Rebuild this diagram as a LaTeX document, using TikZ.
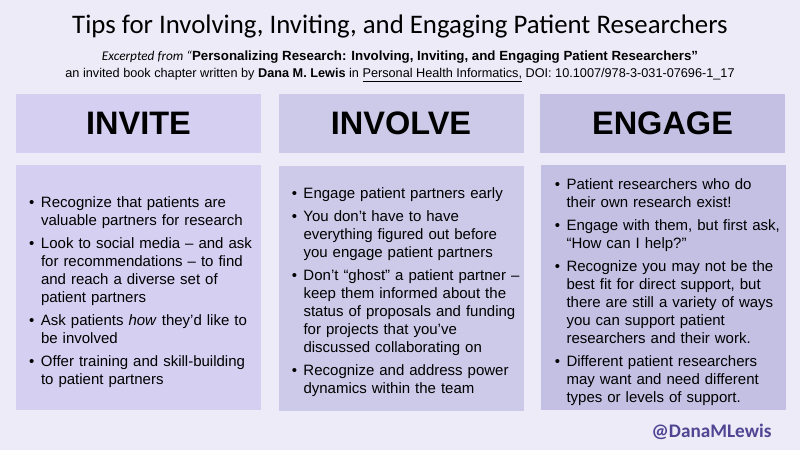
\documentclass[tikz,border=0pt]{standalone}
\usepackage{fontspec}
\setmainfont{Liberation Sans}
\newfontfamily\calfont{Carlito}
\definecolor{bgc}{HTML}{EDEBF8}
\definecolor{cinv}{HTML}{D5CFF1}
\definecolor{cinl}{HTML}{CCCAE8}
\definecolor{ceng}{HTML}{C4C0E4}
\definecolor{handle}{HTML}{4F4593}
\newcommand\bul[1]{\par\noindent\llap{\textbullet\hspace{6.5pt}}#1\par}
\tikzset{
  hdr/.style={minimum width=245pt, minimum height=59pt, inner sep=0pt,
    font=\fontsize{32.5}{36}\selectfont\bfseries},
  bodybox/.style={minimum width=245pt, minimum height=245pt, inner sep=0pt},
  bodytext/.style={text width=240pt, inner sep=0pt, align=left,
    font=\fontsize{15}{18}\selectfont},
  subtext/.style={font=\fontsize{12.7}{15}\selectfont},
}
\begin{document}
\begin{tikzpicture}[x=1pt,y=-1pt]
\useasboundingbox (0,0) rectangle (800,450);
\fill[bgc] (0,0) rectangle (800,450);
% title
\node[font=\calfont\fontsize{26.8}{30}\selectfont] (title) at (400,26) {Tips for Involving, Inviting, and Engaging Patient Researchers};
\node[subtext, font=\fontsize{13.3}{15}\selectfont] (sub1) at (400,57) {{\calfont\itshape Excerpted from “}\textbf{Personalizing Research: Involving, Inviting, and Engaging Patient Researchers”}};
\node[subtext] (sub2) at (400,75) {an invited book chapter written by \textbf{Dana M. Lewis} in \underline{Personal Health Informatics,} DOI: 10.1007/978-3-031-07696-1\_17};
% headers
\node[hdr, fill=cinv] (invh) at (138.5,123.5) {INVITE};
\node[hdr, fill=cinl] (inlh) at (401,123.5) {INVOLVE};
\node[hdr, fill=ceng] (engh) at (662.5,123.5) {ENGAGE};
% bodies
\node[bodybox, fill=cinv] (invb) at (138.5,287.5) {};
\node[bodybox, fill=cinl] (inlb) at (401,288) {};
\node[bodybox, fill=ceng] (engb) at (663,287.5) {};
\node[bodytext, anchor=west] (invt) at ([xshift=25pt,yshift=1pt]invb.west) {\setlength\parskip{5pt}%
\bul{Recognize that patients are\\valuable partners for research}
\bul{Look to social media – and ask\\for recommendations – to find\\and reach a diverse set of\\patient partners}
\bul{Ask patients \textit{how} they’d like to\\be involved}
\bul{Offer training and skill-building\\to patient partners}};
\node[bodytext, anchor=west] (inlt) at ([xshift=25pt,yshift=1.5pt]inlb.west) {\setlength\parskip{5pt}%
\bul{Engage patient partners early}
\bul{You don’t have to have\\everything figured out before\\you engage patient partners}
\bul{Don’t “ghost” a patient partner –\\keep them informed about the\\status of proposals and funding\\for projects that you've\\discussed collaborating on}
\bul{Recognize and address power\\dynamics within the team}};
\node[bodytext, anchor=west] (engt) at ([xshift=26pt,yshift=1.5pt]engb.west) {\setlength\parskip{5pt}%
\bul{Patient researchers who do\\their own research exist!}
\bul{Engage with them, but first ask,\\“How can I help?”}
\bul{Recognize you may not be the\\best fit for direct support, but\\there are still a variety of ways\\you can support patient\\researchers and their work.}
\bul{Different patient researchers\\may want and need different\\types or levels of support.}};
\node[font=\calfont\bfseries\fontsize{19.2}{22}\selectfont, text=handle, anchor=east] (handle) at (775,432) {@DanaMLewis};
\end{tikzpicture}
\end{document}
